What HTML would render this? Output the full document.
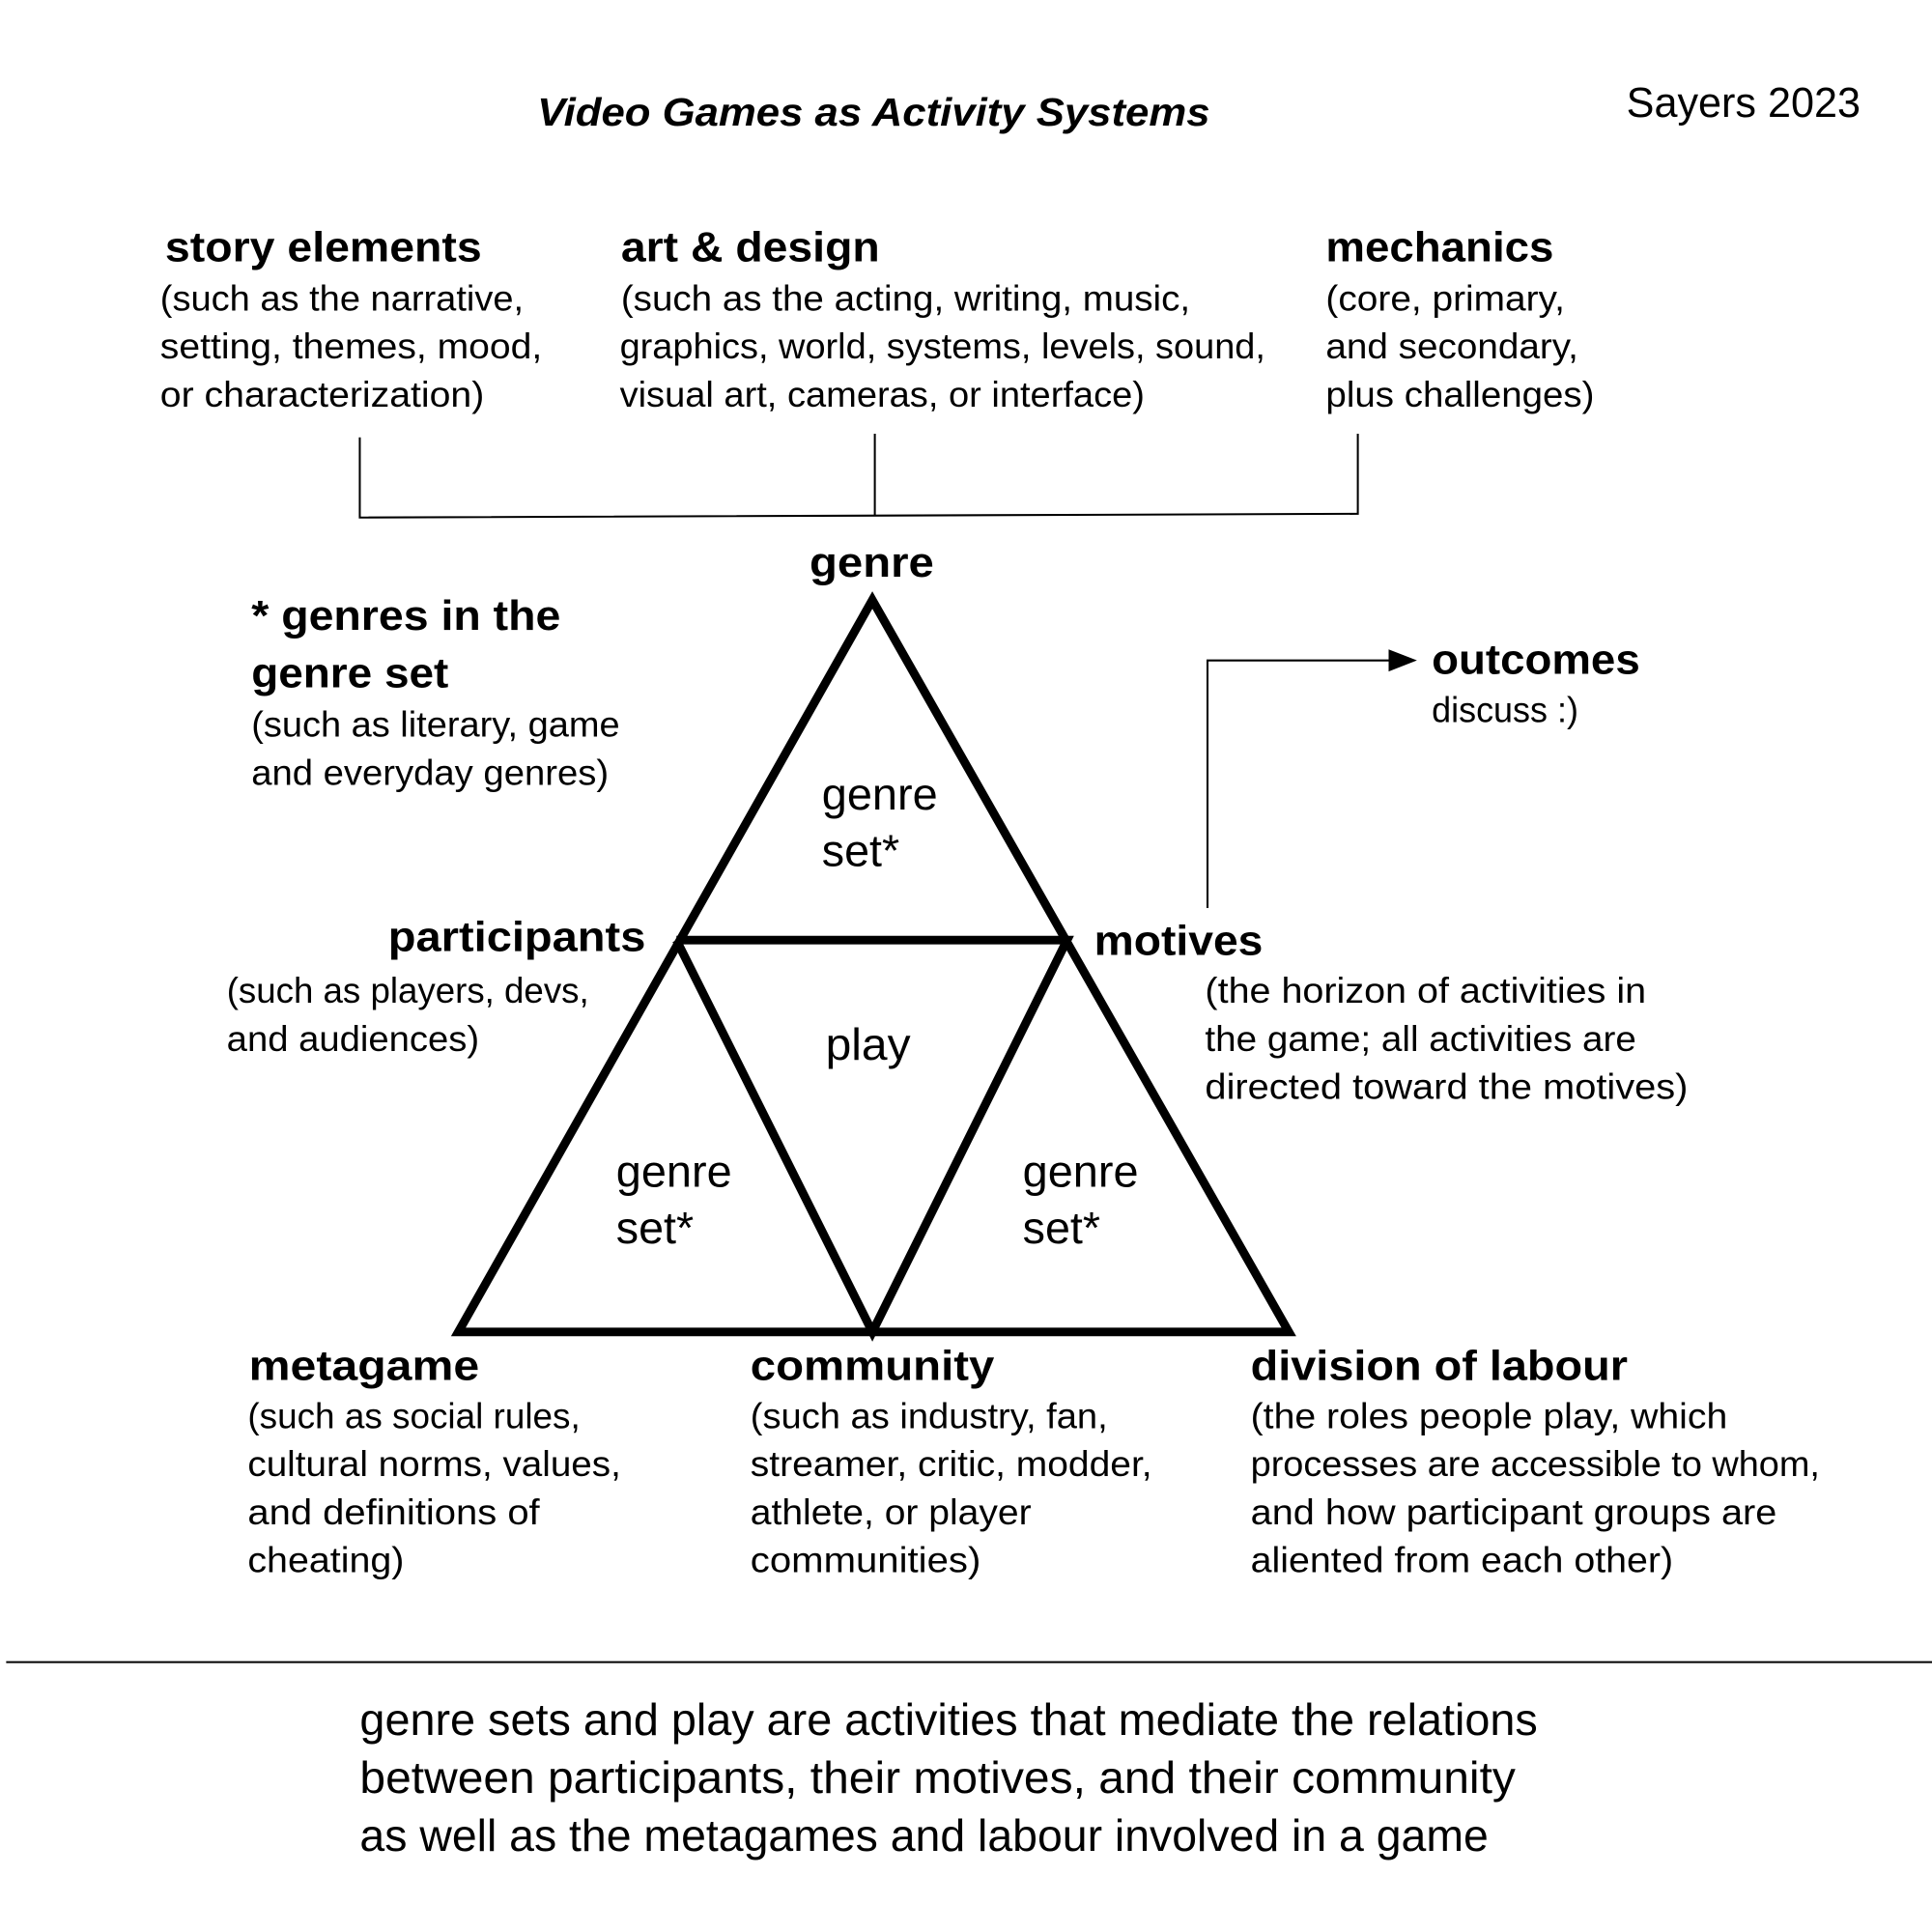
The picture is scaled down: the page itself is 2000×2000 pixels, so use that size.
<!DOCTYPE html>
<html><head><meta charset="utf-8"><style>
html,body{margin:0;padding:0;background:#fff;}
svg{display:block;}
text{font-family:"Liberation Sans",sans-serif;fill:#000;}
.b{font-weight:bold;font-size:34px;}
.s{font-size:29px;}
.m{font-size:36px;}
</style></head><body>
<svg width="2000" height="2000" viewBox="0 0 1568 1568" xmlns="http://www.w3.org/2000/svg">
<rect width="1568" height="1568" fill="#fff"/>
<g lengthAdjust="spacingAndGlyphs">
<text x="436" y="102" font-size="32" font-weight="bold" font-style="italic" textLength="546" lengthAdjust="spacingAndGlyphs">Video Games as Activity Systems</text>
<text x="1320" y="95" font-size="34" textLength="190" lengthAdjust="spacingAndGlyphs">Sayers 2023</text>

<text class="b" x="134" y="212" textLength="257" lengthAdjust="spacingAndGlyphs">story elements</text>
<text class="s" x="130" y="252" textLength="295" lengthAdjust="spacingAndGlyphs">(such as the narrative,</text>
<text class="s" x="130" y="291" textLength="310" lengthAdjust="spacingAndGlyphs">setting, themes, mood,</text>
<text class="s" x="130" y="330" textLength="263" lengthAdjust="spacingAndGlyphs">or characterization)</text>

<text class="b" x="504" y="212" textLength="210" lengthAdjust="spacingAndGlyphs">art &amp; design</text>
<text class="s" x="504" y="252" textLength="462" lengthAdjust="spacingAndGlyphs">(such as the acting, writing, music,</text>
<text class="s" x="503" y="291" textLength="524" lengthAdjust="spacingAndGlyphs">graphics, world, systems, levels, sound,</text>
<text class="s" x="503" y="330" textLength="426" lengthAdjust="spacingAndGlyphs">visual art, cameras, or interface)</text>

<text class="b" x="1076" y="212" textLength="185" lengthAdjust="spacingAndGlyphs">mechanics</text>
<text class="s" x="1076" y="252" textLength="194" lengthAdjust="spacingAndGlyphs">(core, primary,</text>
<text class="s" x="1076" y="291" textLength="205" lengthAdjust="spacingAndGlyphs">and secondary,</text>
<text class="s" x="1076" y="330" textLength="218" lengthAdjust="spacingAndGlyphs">plus challenges)</text>

<text class="b" x="657" y="468" textLength="101" lengthAdjust="spacingAndGlyphs">genre</text>

<text class="b" x="204" y="511" textLength="251" lengthAdjust="spacingAndGlyphs">* genres in the</text>
<text class="b" x="204" y="558" textLength="160" lengthAdjust="spacingAndGlyphs">genre set</text>
<text class="s" x="204" y="598" textLength="299" lengthAdjust="spacingAndGlyphs">(such as literary, game</text>
<text class="s" x="204" y="637" textLength="290" lengthAdjust="spacingAndGlyphs">and everyday genres)</text>

<text class="b" x="1162" y="547" textLength="169" lengthAdjust="spacingAndGlyphs">outcomes</text>
<text class="s" x="1162" y="586" textLength="119" lengthAdjust="spacingAndGlyphs">discuss :)</text>

<text class="m" x="667" y="657" textLength="94" lengthAdjust="spacingAndGlyphs">genre</text>
<text class="m" x="667" y="703" textLength="63" lengthAdjust="spacingAndGlyphs">set*</text>
<text class="m" x="670" y="860" textLength="69" lengthAdjust="spacingAndGlyphs">play</text>
<text class="m" x="500" y="963" textLength="94" lengthAdjust="spacingAndGlyphs">genre</text>
<text class="m" x="500" y="1009" textLength="63" lengthAdjust="spacingAndGlyphs">set*</text>
<text class="m" x="830" y="963" textLength="94" lengthAdjust="spacingAndGlyphs">genre</text>
<text class="m" x="830" y="1009" textLength="63" lengthAdjust="spacingAndGlyphs">set*</text>

<text class="b" x="315" y="772" textLength="209" lengthAdjust="spacingAndGlyphs">participants</text>
<text class="s" x="184" y="814" textLength="294" lengthAdjust="spacingAndGlyphs">(such as players, devs,</text>
<text class="s" x="184" y="853" textLength="205" lengthAdjust="spacingAndGlyphs">and audiences)</text>

<text class="b" x="888" y="775" textLength="137" lengthAdjust="spacingAndGlyphs">motives</text>
<text class="s" x="978" y="814" textLength="358" lengthAdjust="spacingAndGlyphs">(the horizon of activities in</text>
<text class="s" x="978" y="853" textLength="350" lengthAdjust="spacingAndGlyphs">the game; all activities are</text>
<text class="s" x="978" y="892" textLength="392" lengthAdjust="spacingAndGlyphs">directed toward the motives)</text>

<text class="b" x="202" y="1120" textLength="187" lengthAdjust="spacingAndGlyphs">metagame</text>
<text class="s" x="201" y="1159" textLength="270" lengthAdjust="spacingAndGlyphs">(such as social rules,</text>
<text class="s" x="201" y="1198" textLength="303" lengthAdjust="spacingAndGlyphs">cultural norms, values,</text>
<text class="s" x="201" y="1237" textLength="237" lengthAdjust="spacingAndGlyphs">and definitions of</text>
<text class="s" x="201" y="1276" textLength="127" lengthAdjust="spacingAndGlyphs">cheating)</text>

<text class="b" x="609" y="1120" textLength="198" lengthAdjust="spacingAndGlyphs">community</text>
<text class="s" x="609" y="1159" textLength="290" lengthAdjust="spacingAndGlyphs">(such as industry, fan,</text>
<text class="s" x="609" y="1198" textLength="326" lengthAdjust="spacingAndGlyphs">streamer, critic, modder,</text>
<text class="s" x="609" y="1237" textLength="228" lengthAdjust="spacingAndGlyphs">athlete, or player</text>
<text class="s" x="609" y="1276" textLength="187" lengthAdjust="spacingAndGlyphs">communities)</text>

<text class="b" x="1015" y="1120" textLength="306" lengthAdjust="spacingAndGlyphs">division of labour</text>
<text class="s" x="1015" y="1159" textLength="387" lengthAdjust="spacingAndGlyphs">(the roles people play, which</text>
<text class="s" x="1015" y="1198" textLength="462" lengthAdjust="spacingAndGlyphs">processes are accessible to whom,</text>
<text class="s" x="1015" y="1237" textLength="427" lengthAdjust="spacingAndGlyphs">and how participant groups are</text>
<text class="s" x="1015" y="1276" textLength="343" lengthAdjust="spacingAndGlyphs">aliented from each other)</text>

<text class="m" x="292" y="1408" textLength="956" lengthAdjust="spacingAndGlyphs">genre sets and play are activities that mediate the relations</text>
<text class="m" x="292" y="1455" textLength="938" lengthAdjust="spacingAndGlyphs">between participants, their motives, and their community</text>
<text class="m" x="292" y="1502" textLength="916" lengthAdjust="spacingAndGlyphs">as well as the metagames and labour involved in a game</text>
</g>

<!-- bracket -->
<g stroke="#000" stroke-width="1.6" fill="none">
<polyline points="292,355 292,420 1102,417 1102,352"/>
<line x1="710" y1="352" x2="710" y2="419"/>
<polyline points="980,737 980,536 1132,536"/>
<line x1="5" y1="1349" x2="1568" y2="1349"/>
</g>
<polygon points="1127,527 1150,536 1127,545" fill="#000"/>

<!-- triangle -->
<g stroke="#000" stroke-width="7" fill="none" stroke-linejoin="miter">
<polygon points="708,487 1046,1081 372,1081"/>
<polyline points="549,763 866,763 708,1081 549,763"/>
</g>
</svg>
</body></html>
